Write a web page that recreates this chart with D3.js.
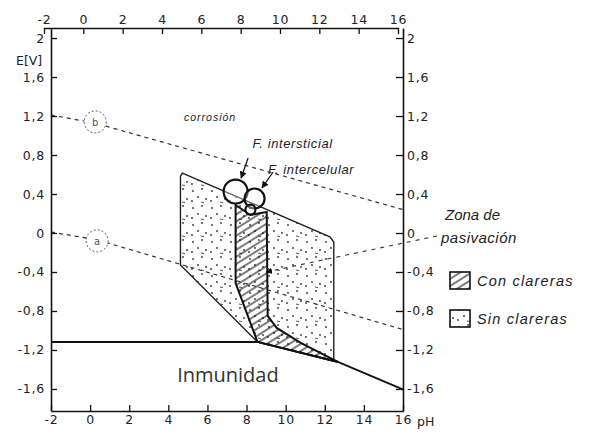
<!DOCTYPE html>
<html>
<head>
<meta charset="utf-8">
<script src="https://cdn.jsdelivr.net/npm/d3@7"></script>
<style>
  body { margin: 0; background: #fff; }
  svg { display: block; }
  .tick text { font-family: "DejaVu Sans", sans-serif; font-size: 12.5px; fill: #222; letter-spacing: 0.8px; }
  .hand { font-family: "Liberation Sans", sans-serif; font-style: italic; fill: #222; }
</style>
</head>
<body>
<script>
// ejes
var xTicks = [-2, 0, 2, 4, 6, 8, 10, 12, 14, 16];
var yTicks = [2, 1.6, 1.2, 0.8, 0.4, 0, -0.4, -0.8, -1.2, -1.6];

// rectas de equilibrio del agua (pH, E)
var lineA = [[-2, 0.01], [0.35, -0.07], [16, -0.99]];
var lineB = [[-2, 1.21], [0.2, 1.13], [16, 0.24]];
var labelA = [0.36, -0.08];
var labelB = [0.26, 1.14];

// limite de inmunidad
var immunity = [[-2, -1.118], [8.56, -1.118], [12.67, -1.323], [16.05, -1.61]];

// zona de pasivacion sin clareras
var sinClareras = [[4.62, 0.58], [4.72, 0.615], [12.26, -0.04], [12.46, -0.092],
                   [12.46, -1.313], [8.56, -1.118], [4.62, -0.328]];

// zona con clareras
var conClareras = [[7.44, 0.287], [7.44, -0.513], [8.56, -1.118], [12.67, -1.323],
                   [10.77, -1.128], [9.54, -0.974], [9.08, -0.851], [9.03, 0.215], [8.2, 0.185]];

// picaduras
var pits = [[7.44, 0.425, 12], [8.41, 0.354, 10], [8.2, 0.24, 5]];

var fmt = function(d) { return String(d).replace(".", ","); };

var svg = d3.select("body").append("svg")
    .attr("width", 603)
    .attr("height", 437);

var x = d3.scaleLinear().domain([-2, 16]).range([51, 403]);
var xTop = d3.scaleLinear().domain([-2, 16]).range([44, 398]);
var y = d3.scaleLinear().domain([-1.826, 2.103]).range([411, 28]);

var defs = svg.append("defs");
var hatch = defs.append("pattern")
    .attr("id", "hatch")
    .attr("patternUnits", "userSpaceOnUse")
    .attr("width", 6).attr("height", 6)
    .attr("patternTransform", "rotate(-32)");
hatch.append("line")
    .attr("x1", 0).attr("y1", 1).attr("x2", 6).attr("y2", 1)
    .attr("stroke", "#111").attr("stroke-width", 1.1);

var dots = defs.append("pattern")
    .attr("id", "dots")
    .attr("patternUnits", "userSpaceOnUse")
    .attr("width", 19).attr("height", 17);
[[3, 4], [12, 2], [8, 10], [16, 12], [2, 14]].forEach(function(p) {
  dots.append("circle").attr("cx", p[0]).attr("cy", p[1]).attr("r", 0.9).attr("fill", "#333");
});
dots.append("line").attr("x1", 11).attr("y1", 15).attr("x2", 14).attr("y2", 15.6)
    .attr("stroke", "#444").attr("stroke-width", 0.9);

var line = d3.line()
    .x(function(d) { return x(d[0]); })
    .y(function(d) { return y(d[1]); });

// zonas
svg.append("path")
    .attr("d", line(sinClareras) + "Z")
    .attr("fill", "url(#dots)")
    .attr("stroke", "#222")
    .attr("stroke-width", 1.4);

svg.append("path")
    .attr("d", line(conClareras) + "Z")
    .attr("fill", "url(#hatch)")
    .attr("stroke", "#111")
    .attr("stroke-width", 2);

// rectas a y b
[lineA, lineB].forEach(function(l) {
  svg.append("path")
      .attr("d", line(l))
      .attr("fill", "none")
      .attr("stroke", "#333")
      .attr("stroke-width", 1.2)
      .attr("stroke-dasharray", "4,4");
});

[[labelA, "a"], [labelB, "b"]].forEach(function(o) {
  svg.append("circle")
      .attr("cx", x(o[0][0])).attr("cy", y(o[0][1])).attr("r", 11)
      .attr("fill", "#fff")
      .attr("stroke", "#555").attr("stroke-width", 1)
      .attr("stroke-dasharray", "2,2");
  svg.append("text")
      .attr("x", x(o[0][0])).attr("y", y(o[0][1]) + 4)
      .attr("text-anchor", "middle")
      .style("font-family", "DejaVu Sans").style("font-size", "10px").style("fill", "#555")
      .text(o[1]);
});

// inmunidad
svg.append("path")
    .attr("d", line(immunity))
    .attr("fill", "none")
    .attr("stroke", "#111")
    .attr("stroke-width", 1.8);

// picaduras
pits.forEach(function(p) {
  svg.append("circle")
      .attr("cx", x(p[0])).attr("cy", y(p[1])).attr("r", p[2])
      .attr("fill", "#fff").attr("fill-opacity", 0.35)
      .attr("stroke", "#111").attr("stroke-width", 2.2);
});

// flechas
defs.append("marker")
    .attr("id", "arr")
    .attr("viewBox", "0 0 10 10")
    .attr("refX", 9).attr("refY", 5)
    .attr("markerWidth", 6).attr("markerHeight", 6)
    .attr("orient", "auto")
  .append("path").attr("d", "M0,0L10,5L0,10Z").attr("fill", "#111");

var leaders = [
  [[8.08, 0.77], [7.72, 0.564]],
  [[9.36, 0.626], [8.79, 0.462]]
];
leaders.forEach(function(l) {
  svg.append("path")
      .attr("d", line(l))
      .attr("stroke", "#111").attr("stroke-width", 1.2)
      .attr("marker-end", "url(#arr)");
});

svg.append("path")
    .attr("d", line([[17.74, -0.03], [9.0, -0.40]]))
    .attr("stroke", "#333").attr("stroke-width", 1.1)
    .attr("stroke-dasharray", "4,5")
    .attr("marker-end", "url(#arr)");

// ejes
svg.append("g")
    .attr("transform", "translate(0,411)")
    .call(d3.axisBottom(x).tickValues(xTicks).tickSize(-6).tickSizeOuter(0).tickPadding(4).tickFormat(fmt));

svg.append("g")
    .attr("transform", "translate(0,28)")
    .call(d3.axisTop(xTop).tickValues(xTicks).tickSize(-6).tickSizeOuter(0).tickPadding(4).tickFormat(fmt));

svg.append("g")
    .attr("transform", "translate(51,0)")
    .call(d3.axisLeft(y).tickValues(yTicks).tickSize(-6).tickSizeOuter(0).tickPadding(6).tickFormat(fmt));

svg.append("g")
    .attr("transform", "translate(403,0)")
    .call(d3.axisRight(y).tickValues(yTicks).tickSize(-7).tickSizeOuter(0).tickPadding(4).tickFormat(fmt));

svg.selectAll(".domain").attr("stroke", "#111").attr("stroke-width", 1.6);
svg.selectAll(".tick line").attr("stroke", "#111").attr("stroke-width", 1.3);

svg.append("text")
    .attr("x", 16).attr("y", 65)
    .style("font-family", "DejaVu Sans").style("font-size", "12.5px").style("fill", "#222")
    .text("E[V]");

svg.append("text")
    .attr("x", 417).attr("y", 426)
    .style("font-family", "DejaVu Sans").style("font-size", "12.5px").style("fill", "#222")
    .text("pH");

// textos
svg.append("text").attr("class", "hand")
    .attr("x", x(4.8)).attr("y", y(1.15))
    .style("font-size", "10.5px").style("letter-spacing", "1px")
    .text("corrosión");

svg.append("text").attr("class", "hand")
    .attr("x", x(8.3)).attr("y", y(0.87))
    .style("font-size", "13px").style("letter-spacing", "0.6px")
    .text("F. intersticial");

svg.append("text").attr("class", "hand")
    .attr("x", x(9.1)).attr("y", y(0.61))
    .style("font-size", "13px").style("letter-spacing", "0.6px")
    .text("F. intercelular");

svg.append("text")
    .attr("x", x(4.45)).attr("y", y(-1.53))
    .style("font-family", "Open Sans").style("font-size", "20px").style("fill", "#333")
    .text("Inmunidad");

svg.append("text").attr("class", "hand")
    .attr("x", 445).attr("y", 220)
    .style("font-size", "15px")
    .text("Zona de");
svg.append("text").attr("class", "hand")
    .attr("x", 441).attr("y", 243)
    .style("font-size", "15px").style("letter-spacing", "0.5px")
    .text("pasivación");

// leyenda
var legend = [["url(#hatch)", "Con clareras", 272], ["url(#dots)", "Sin clareras", 310]];
legend.forEach(function(l) {
  svg.append("rect")
      .attr("x", 450).attr("y", l[2]).attr("width", 20).attr("height", 17)
      .attr("fill", l[0]).attr("stroke", "#111").attr("stroke-width", 1.6);
  svg.append("text").attr("class", "hand")
      .attr("x", 477).attr("y", l[2] + 14)
      .style("font-size", "14.5px").style("letter-spacing", "1.2px")
      .text(l[1]);
});
</script>
</body>
</html>
